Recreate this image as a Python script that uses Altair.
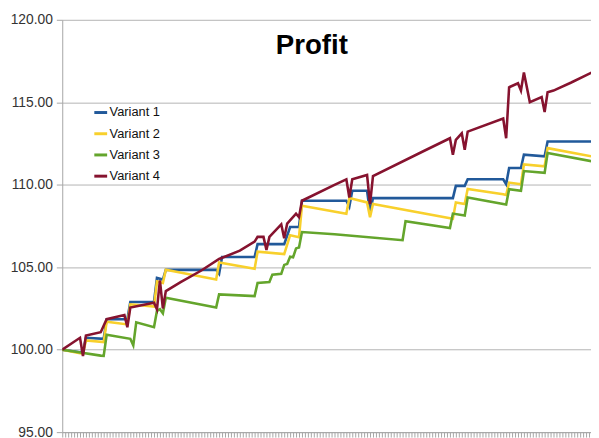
import altair as alt
import pandas as pd

series_names = ["Variant 1", "Variant 2", "Variant 3", "Variant 4"]
series_colors = ["#21599A", "#F8D02C", "#64A52C", "#86132F"]

days1 = [0, 6, 7, 8, 14, 15, 22, 23, 31, 32, 34, 35, 52, 53, 54, 65, 66, 75, 77, 80, 81,
         96, 97, 98, 103, 104, 105, 132, 133, 136, 137, 149, 150, 151, 155, 156, 163, 164, 179]
vals1 = [100.00, 99.85, 99.85, 100.72, 100.66, 101.85, 101.85, 102.89, 102.89, 104.35, 104.25,
         104.84, 104.84, 104.60, 105.62, 105.62, 106.40, 106.40, 107.44, 107.44, 109.03, 109.03,
         108.67, 109.63, 109.63, 108.33, 109.19, 109.19, 109.93, 109.93, 110.33, 110.33, 110.03,
         111.02, 111.02, 111.82, 111.72, 112.62, 112.62]

days2 = [0, 6, 7, 8, 14, 15, 22, 23, 31, 32, 34, 35, 52, 53, 65, 66, 75, 77, 80, 81, 96, 97,
         103, 104, 105, 132, 133, 136, 137, 149, 150, 151, 155, 156, 163, 164, 179]
vals2 = [100.00, 99.78, 99.76, 100.56, 100.46, 101.69, 101.53, 102.75, 102.61, 104.14, 104.05,
         104.84, 104.25, 105.28, 104.90, 105.94, 105.80, 106.94, 106.82, 108.73, 108.24, 109.19,
         108.93, 108.03, 108.83, 107.94, 108.93, 108.83, 109.75, 109.43, 109.38, 110.13, 110.03,
         111.23, 111.12, 112.22, 111.72]

days3 = [0, 5, 13, 14, 15, 23, 24, 25, 31, 32, 33, 34, 35, 52, 53, 65, 66, 70, 71, 74, 75, 76,
         77, 78, 79, 80, 81, 92, 115, 116, 131, 132, 136, 137, 149, 150, 151, 155, 156, 163, 164, 179]
vals3 = [100.00, 99.86, 99.64, 99.62, 100.90, 100.66, 100.26, 101.66, 101.36, 102.35, 102.45,
         102.20, 103.15, 102.55, 103.35, 103.25, 104.05, 104.10, 104.55, 104.60, 105.14, 105.20,
         105.64, 105.60, 106.14, 106.20, 107.13, 107.00, 106.64, 107.79, 107.37, 108.25, 108.13,
         109.23, 108.83, 108.80, 109.73, 109.63, 110.83, 110.72, 111.92, 111.42]

days4 = [0, 6, 7, 8, 13, 15, 21, 22, 23, 31, 32, 33, 34, 35, 40, 47, 53, 60, 65, 66, 68, 69, 70,
         74, 75, 76, 79, 80, 81, 92, 96, 97, 98, 103, 104, 105, 122, 131, 132, 133, 135, 136, 137,
         149, 150, 151, 154, 155, 156, 158, 162, 163, 164, 166, 172, 179]
vals4 = [100.00, 100.72, 99.62, 100.86, 101.06, 101.85, 102.10, 101.36, 102.55, 102.85, 102.45,
         104.20, 102.50, 103.55, 104.10, 104.80, 105.50, 106.00, 106.55, 106.84, 106.84, 106.04,
         106.84, 107.60, 106.76, 107.64, 108.24, 108.03, 109.03, 109.99, 110.33, 109.23, 110.33,
         110.59, 108.83, 110.53, 112.03, 112.82, 111.82, 112.72, 113.12, 112.12, 113.22, 114.01,
         112.82, 115.91, 116.15, 115.71, 116.81, 115.01, 115.31, 114.41, 115.61, 115.71, 116.20,
         116.81]

y_ticks = [95, 100, 105, 110, 115, 120]
x_ticks = list(range(0, 179))
chart_title = ["Profit"]

rows = []
for name, ds, vs in zip(series_names, [days1, days2, days3, days4], [vals1, vals2, vals3, vals4]):
    for d, v in zip(ds, vs):
        rows.append({"series": name, "day": d, "value": v})
df = pd.DataFrame(rows)

FONT = "Liberation Sans"

lines = alt.Chart(df).mark_line(strokeWidth=2.6, clip=True).encode(
    x=alt.X("day:Q",
            scale=alt.Scale(domain=[0, 178.67], nice=False, zero=False),
            axis=alt.Axis(values=x_ticks, labels=False, title=None, grid=False, tickSize=5,
                          tickColor="#a6a6a6", domainColor="#a6a6a6")),
    y=alt.Y("value:Q",
            scale=alt.Scale(domain=[95, 120], nice=False, zero=False),
            axis=alt.Axis(values=y_ticks, format=".2f", title=None, grid=True, gridColor="#b3b3b3",
                          tickSize=6, labelPadding=4, labelFontSize=14, labelFont=FONT,
                          labelColor="#333333", domainColor="#a6a6a6", tickColor="#a6a6a6")),
    color=alt.Color("series:N",
                    scale=alt.Scale(domain=series_names, range=series_colors),
                    legend=alt.Legend(orient="none", legendX=31, legendY=86, title=None,
                                      symbolType="stroke", symbolSize=169, symbolStrokeWidth=3,
                                      labelFontSize=13, labelFont=FONT, labelColor="#111111",
                                      labelOffset=1, rowPadding=6.5, padding=0)),
)

title_mark = alt.Chart(pd.DataFrame({"t": chart_title})).mark_text(
    fontSize=28, fontWeight="bold", font=FONT, color="black", baseline="middle", align="center"
).encode(text="t:N", x=alt.value(253), y=alt.value(27))

chart = alt.layer(lines, title_mark).properties(
    width=536, height=418,
    autosize=alt.AutoSizeParams(type="none"),
    padding={"left": 55, "top": 9, "right": 0, "bottom": 5},
).configure_view(stroke="transparent")

chart.save("out.html", embed_options={"renderer": "svg", "actions": False})
